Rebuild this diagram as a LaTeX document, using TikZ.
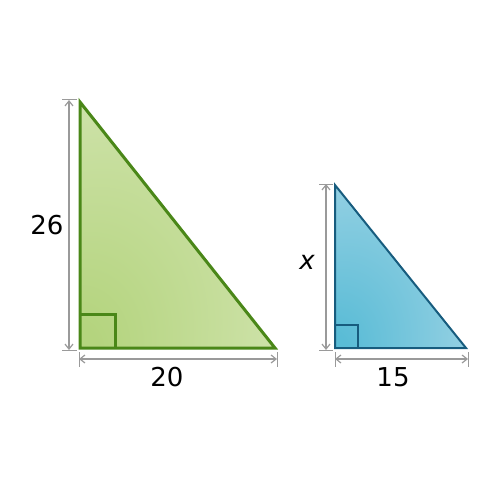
\documentclass[tikz,border=0pt]{standalone}
\usepackage{fontspec}
\setmainfont{DejaVu Sans}
\usetikzlibrary{arrows.meta}
\definecolor{grnline}{HTML}{4A8718}
\definecolor{grnlight}{HTML}{D3E5B2}
\definecolor{grndark}{HTML}{B4D47E}
\definecolor{bluline}{HTML}{175C7E}
\definecolor{blulight}{HTML}{A8D7E7}
\definecolor{bludark}{HTML}{5ABCD6}
\definecolor{dimgray}{HTML}{9A9A9A}
% radial fill whose darkest point sits near the right-angle corner
\pgfdeclareradialshading{grnfill}{\pgfpoint{-28bp}{-28bp}}{%
  color(0bp)=(grndark); color(6bp)=(grndark); color(50bp)=(grnlight); color(100bp)=(grnlight)}
\pgfdeclareradialshading{blufill}{\pgfpoint{-28bp}{-28bp}}{%
  color(0bp)=(bludark); color(6bp)=(bludark); color(55bp)=(blulight); color(100bp)=(blulight)}

\begin{document}
\begin{tikzpicture}[
  x=1pt, y=-1pt,
  % dimension lines and labels
  dim/.style={draw=dimgray, line width=1.2pt, {Straight Barb[length=5pt,width=8pt]}-{Straight Barb[length=5pt,width=8pt]}},
  tick/.style={draw=dimgray, line width=1pt},
  lbl/.style={font=\fontsize{26}{28}\selectfont, inner sep=0pt},
]
\useasboundingbox (0,0) rectangle (500,500);

%% -- Big triangle ---------------------------------------------------
\coordinate (gc) at (80,348);
\coordinate (gt) at (80,102);
\coordinate (gr) at (275,348);
\shade[shading=grnfill] (gc) -- (gt) -- (gr) -- cycle;
\draw[grnline, line width=3pt] (80,314) -| (115,348);
\draw[grnline, line width=3pt, line join=miter] (gc) -- (gt) -- (gr) -- cycle;

% dimensions
\coordinate (gv1) at (69,100);
\coordinate (gv2) at (69,350);
\draw[dim] (gv1) -- (gv2);
\draw[tick] (62,100) -- (77,100);
\draw[tick] (62,350) -- (77,350);
\coordinate (gh1) at (79,359);
\coordinate (gh2) at (277,359);
\draw[dim] (gh1) -- (gh2);
\draw[tick] (79,352) -- (79,367);
\draw[tick] (277,352) -- (277,367);

\node[lbl] (len26) at (47,225) {26};
\node[lbl] (len20) at (167,377) {20};

%% -- Small triangle -------------------------------------------------
\coordinate (bc) at (335,348);
\coordinate (bt) at (335,185);
\coordinate (br) at (466,348);
\shade[shading=blufill] (bc) -- (bt) -- (br) -- cycle;
\draw[bluline, line width=1.8pt] (335,325) -| (358,348);
\draw[bluline, line width=2pt, line join=miter] (bc) -- (bt) -- (br) -- cycle;

% dimensions
\coordinate (bv1) at (326,184);
\coordinate (bv2) at (326,350);
\draw[dim] (bv1) -- (bv2);
\draw[tick] (319,184) -- (333,184);
\draw[tick] (319,350) -- (333,350);
\coordinate (bh1) at (335,359);
\coordinate (bh2) at (468,359);
\draw[dim] (bh1) -- (bh2);
\draw[tick] (335,352) -- (335,367);
\draw[tick] (468,352) -- (468,367);

\node[lbl] (lenx)  at (307,262) {\itshape x};
\node[lbl] (len15) at (393,377) {15};

\end{tikzpicture}
\end{document}
